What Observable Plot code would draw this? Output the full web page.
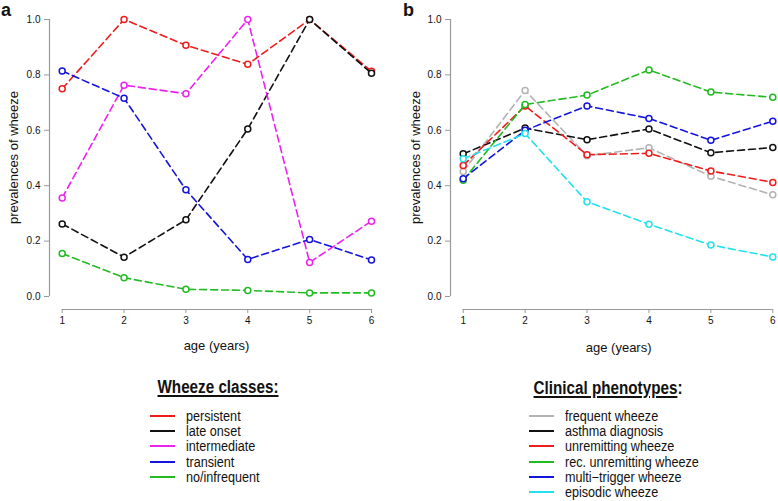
<!DOCTYPE html>
<html><head><meta charset="utf-8">
<script src="https://cdn.jsdelivr.net/npm/d3@7"></script>
<script src="https://cdn.jsdelivr.net/npm/@observablehq/plot@0.6"></script>
<style>
body{margin:0;background:#fff;font-family:"Liberation Sans",Arial,sans-serif;color:#111;}
#root{position:relative;width:778px;height:501px;overflow:hidden;background:#fff;}
.panel{position:absolute;top:0;}
.tag{position:absolute;font-weight:bold;font-size:18px;line-height:18px;}
.leg-title{position:absolute;font-weight:bold;font-size:17.5px;line-height:18px;white-space:nowrap;transform:translate(-50%,-50%) scaleX(0.87);}
.leg-title u{text-decoration:underline;text-underline-offset:2px;text-decoration-thickness:1.5px;}
.leg-line{position:absolute;width:25px;height:2px;}
.leg-text{position:absolute;font-size:14px;line-height:14px;white-space:nowrap;transform-origin:left center;transform:scaleX(0.9);}
</style>
</head><body>
<div id="root"></div>
<script>
// ---------- data ----------
const ages = [1, 2, 3, 4, 5, 6];
const yTicks = [0, 0.2, 0.4, 0.6, 0.8, 1.0];
const yLabel = "prevalences of wheeze";
const xLabel = "age (years)";

// Panel a: wheeze classes
const classNames = ["persistent", "late onset", "intermediate", "transient", "no/infrequent"];
const classColors = ["#ee1c1c", "#111111", "#ee22ee", "#1414dd", "#22bb22"];
const persistent   = [0.750, 1.000, 0.907, 0.838, 1.000, 0.813];
const lateOnset    = [0.262, 0.142, 0.277, 0.605, 1.000, 0.806];
const intermediate = [0.356, 0.763, 0.732, 1.000, 0.123, 0.272];
const transient    = [0.814, 0.716, 0.385, 0.134, 0.206, 0.132];
const noInfrequent = [0.155, 0.068, 0.026, 0.022, 0.013, 0.013];
const classValues = [persistent, lateOnset, intermediate, transient, noInfrequent];

// Panel b: clinical phenotypes
const phenoNames = ["frequent wheeze", "asthma diagnosis", "unremitting wheeze", "rec. unremitting wheeze", "multi\u2212trigger wheeze", "episodic wheeze"];
const phenoColors = ["#b3b3b3", "#111111", "#ee1c1c", "#22bb22", "#1414dd", "#22e0ee"];
const frequentWheeze   = [0.451, 0.744, 0.508, 0.537, 0.434, 0.367];
const asthmaDiagnosis  = [0.515, 0.608, 0.566, 0.605, 0.519, 0.538];
const unremitting      = [0.473, 0.688, 0.512, 0.517, 0.453, 0.412];
const recUnremitting   = [0.420, 0.693, 0.727, 0.818, 0.738, 0.719];
const multiTrigger     = [0.425, 0.600, 0.688, 0.643, 0.564, 0.633];
const episodic         = [0.497, 0.588, 0.342, 0.261, 0.186, 0.143];
const phenoValues = [frequentWheeze, asthmaDiagnosis, unremitting, recUnremitting, multiTrigger, episodic];

// ---------- drawing ----------
const FONT = '"Liberation Sans", Arial, sans-serif';
function panel(names, colors, values, o) {
  const rows = names.flatMap((n, i) => ages.map((a, j) => ({series: n, age: a, value: values[i][j]})));
  const marks = [];
  names.forEach((n, i) => {
    const d = rows.filter(r => r.series === n);
    marks.push(Plot.line(d, {x: "age", y: "value", stroke: colors[i], strokeWidth: 1.6, strokeDasharray: "7,4"}));
    marks.push(Plot.dot(d, {x: "age", y: "value", stroke: colors[i], fill: "white", r: 3, strokeWidth: 1.5}));
  });
  return Plot.plot({
    width: o.width, height: 360,
    marginLeft: o.marginLeft, marginRight: o.marginRight, marginTop: 19, marginBottom: 51,
    x: {domain: [ages[0], ages[ages.length - 1]], insetLeft: 12.7},
    y: {domain: [yTicks[0], yTicks[yTicks.length - 1]], insetBottom: 13},
    style: {fontFamily: FONT, fontSize: "10px", color: "#111", background: "white", overflow: "visible"},
    marks: [
      Plot.ruleX([ages[0]], {y1: yTicks[0], y2: yTicks[yTicks.length - 1], dx: -12.7, stroke: "#999", strokeWidth: 1.2}),
      Plot.ruleY([yTicks[0]], {x1: ages[0], x2: ages[ages.length - 1], dy: 13, stroke: "#999", strokeWidth: 1.2}),
      Plot.axisY(yTicks, {tickSize: 5, tickPadding: 4, tickFormat: d3.format(".1f"), label: null, stroke: "#999", fill: "#111"}),
      Plot.axisX(ages, {tickSize: 4, tickPadding: 3, label: null, stroke: "#999", fill: "#111"}),
      Plot.text([yLabel], {text: d => d, frameAnchor: "left", textAnchor: "middle", lineAnchor: "middle", rotate: -90, dx: -o.yLabelOffset, dy: -7, fontSize: 13, fill: "#111"}),
      Plot.text([xLabel], {text: d => d, frameAnchor: "bottom", textAnchor: "middle", lineAnchor: "middle", dx: o.xLabelDx, dy: o.xLabelDy, fontSize: 13, fill: "#111"}),
      ...marks
    ]
  });
}

const root = document.getElementById("root");
function addPanel(svg, left) {
  const div = document.createElement("div");
  div.className = "panel";
  div.style.left = left + "px";
  div.appendChild(svg);
  root.appendChild(div);
}
addPanel(panel(classNames, classColors, classValues, {width: 389, marginLeft: 49, marginRight: 18, yLabelOffset: 36, xLabelDx: 6, xLabelDy: 36}), 0);
addPanel(panel(phenoNames, phenoColors, phenoValues, {width: 389, marginLeft: 61, marginRight: 5.7, yLabelOffset: 35, xLabelDx: 7, xLabelDy: 38}), 389);

function tag(t, left) {
  const d = document.createElement("div");
  d.className = "tag"; d.textContent = t;
  d.style.left = left + "px"; d.style.top = "1px";
  root.appendChild(d);
}
tag("a", 1); tag("b", 403);

function legend(titleHtml, cx, ty, names, colors, lineX, textX, y0) {
  const t = document.createElement("div");
  t.className = "leg-title"; t.innerHTML = titleHtml;
  t.style.left = cx + "px"; t.style.top = ty + "px";
  root.appendChild(t);
  names.forEach((n, i) => {
    const y = y0 + i * 15.2;
    const l = document.createElement("div");
    l.className = "leg-line"; l.style.background = colors[i];
    l.style.left = lineX + "px"; l.style.top = (y - 1) + "px";
    root.appendChild(l);
    const s = document.createElement("div");
    s.className = "leg-text"; s.textContent = n;
    s.style.left = textX + "px"; s.style.top = (y - 7) + "px";
    root.appendChild(s);
  });
}
legend("<u>Wheeze classes:</u>", 218, 387, classNames, classColors, 150, 186, 416);
legend("<u>Clinical phenotypes</u>:", 608, 388, phenoNames, phenoColors, 529, 565, 416);
</script>
</body></html>
